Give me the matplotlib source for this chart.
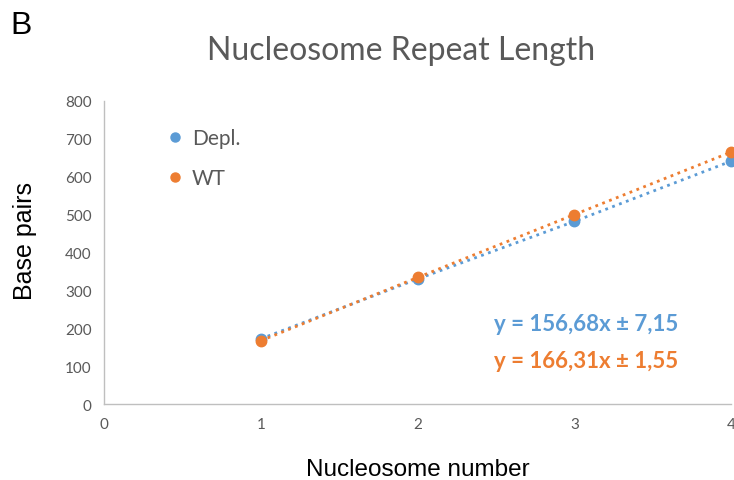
import matplotlib.pyplot as plt
from matplotlib.lines import Line2D

# Data
nucleosome = [1, 2, 3, 4]
depl = [172, 330, 482, 641]
wt = [167, 334, 500, 665]
eq_depl = "y = 156,68x ± 7,15"
eq_wt = "y = 166,31x ± 1,55"

blue = "#5B9BD5"
orange = "#ED7D31"
grey = "#595959"

fig = plt.figure(figsize=(7.34, 4.81), dpi=100)
ax = fig.add_axes([0.1417, 0.158, 0.8543, 0.630])

ax.plot(nucleosome, depl, linestyle=":", color=blue, lw=2, marker="o", ms=7.5,
        clip_on=False, zorder=3)
ax.plot(nucleosome, wt, linestyle=":", color=orange, lw=2, marker="o", ms=7.5,
        clip_on=False, zorder=4)

ax.set_xlim(0, 4)
ax.set_ylim(0, 800)
ax.set_xticks(range(0, 5))
ax.set_yticks(range(0, 801, 100))
ax.tick_params(length=0, labelsize=11, labelcolor=grey, pad=9)
for lab in ax.get_xticklabels() + ax.get_yticklabels():
    lab.set_family("Lato")
for s in ["top", "right"]:
    ax.spines[s].set_visible(False)
for s in ["left", "bottom"]:
    ax.spines[s].set_color("#BFBFBF")
    ax.spines[s].set_linewidth(1)

ax.set_xlabel("Nucleosome number", fontsize=17.5, family="Liberation Sans", labelpad=20)
ax.set_ylabel("Base pairs", fontsize=18, family="Liberation Sans", labelpad=20, y=0.54)

fig.text(0.546, 0.894, "Nucleosome Repeat Length", ha="center", va="center",
         fontsize=23, color=grey, family="Lato")
fig.text(0.014, 0.946, "B", ha="left", va="center", fontsize=23,
         family="Liberation Sans")

handles = [Line2D([], [], ls="", marker="o", color=blue, ms=6.5),
           Line2D([], [], ls="", marker="o", color=orange, ms=6.5)]
leg = ax.legend(handles, ["Depl.", "WT"], loc="upper left",
                bbox_to_anchor=(0.07, 0.972), frameon=False, handlelength=0.8,
                handletextpad=0.4, labelspacing=0.95,
                prop={"family": "Lato", "size": 15})
for t in leg.get_texts():
    t.set_color(grey)

ax.text(0.622, 0.267, eq_depl, transform=ax.transAxes, color=blue,
        fontsize=16, fontweight="bold", family="Lato", va="center")
ax.text(0.622, 0.142, eq_wt, transform=ax.transAxes, color=orange,
        fontsize=16, fontweight="bold", family="Lato", va="center")

fig.savefig("out.png", dpi=100)
